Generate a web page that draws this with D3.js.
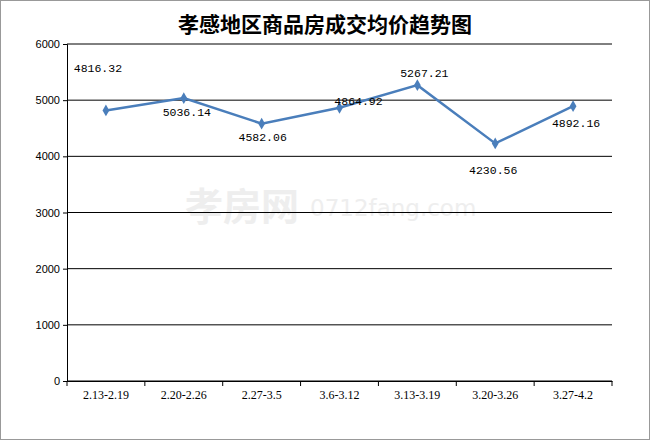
<!DOCTYPE html>
<html><head><meta charset="utf-8">
<script src="https://cdn.jsdelivr.net/npm/d3@7"></script>
<style>body{margin:0;background:#fff}</style></head>
<body><svg id="c" width="650" height="440"></svg>
<script>
const categories=["2.13-2.19","2.20-2.26","2.27-3.5","3.6-3.12","3.13-3.19","3.20-3.26","3.27-4.2"];
const values=[4816.32,5036.14,4582.06,4864.92,5267.21,4230.56,4892.16];
const yTicks=[0,1000,2000,3000,4000,5000,6000];
const labelDx=[-8,3,1,19,7,-2,3];
const labelDy=[-38,18,17,-3,-8,31,21];
const svg=d3.select("#c");
svg.append("rect").attr("x",0.5).attr("y",0.5).attr("width",649).attr("height",439).attr("fill","#fff").attr("stroke","#999");
const L=67,R=612,T=44,B=381;
const x=d3.scaleBand().domain(categories).range([L,R]);
const y=d3.scaleLinear().domain([0,6000]).range([B,T]);
svg.append("text").attr("x",325).attr("y",32).attr("text-anchor","middle").attr("font-family","Noto Sans CJK SC").attr("font-weight","bold").attr("font-size",21).text("孝感地区商品房成交均价趋势图");
svg.append("text").attr("x",185).attr("y",220).attr("font-family","Noto Sans CJK SC").attr("font-weight","bold").attr("font-size",38).attr("fill","#eee").text("孝房网");
svg.append("text").attr("x",310).attr("y",216).attr("font-family","DejaVu Sans").attr("font-size",23).attr("fill","#eee").text("0712fang.com");
svg.selectAll(".g").data(yTicks).enter().append("line").attr("x1",L).attr("x2",R).attr("y1",d=>y(d)).attr("y2",d=>y(d)).attr("stroke","#000");
svg.append("g").attr("transform",`translate(${L},0)`).call(d3.axisLeft(y).tickValues(yTicks).tickSize(4).tickFormat(d3.format("d")))
 .call(g=>g.selectAll("text").attr("font-family","Liberation Sans").attr("font-size",11).attr("fill","#000"));
const xa=svg.append("g").attr("transform",`translate(0,${B})`).call(d3.axisBottom(x).tickSize(0).tickPadding(9));
xa.selectAll("text").attr("font-family","Liberation Serif").attr("font-size",12).attr("fill","#000");
xa.selectAll(".sep").data(d3.range(categories.length+1)).enter().append("line").attr("x1",i=>L+i*x.step()).attr("x2",i=>L+i*x.step()).attr("y1",0).attr("y2",5).attr("stroke","#000");
const cx=(d,i)=>x(categories[i])+x.bandwidth()/2;
svg.append("path").datum(values).attr("fill","none").attr("stroke","#4a7ebb").attr("stroke-width",2.5)
 .attr("d",d3.line().x((d,i)=>cx(d,i)).y(d=>y(d)));
svg.selectAll(".m").data(values).enter().append("path").attr("d",d3.symbol(d3.symbolDiamond,40)).attr("fill","#4a7ebb")
 .attr("transform",(d,i)=>`translate(${cx(d,i)},${y(d)})`);
svg.selectAll(".l").data(values).enter().append("text").attr("text-anchor","middle").attr("font-family","Liberation Mono").attr("font-size",11.5)
 .attr("x",(d,i)=>cx(d,i)+labelDx[i]).attr("y",(d,i)=>y(d)+labelDy[i]).text(d=>d.toFixed(2));
</script></body></html>
